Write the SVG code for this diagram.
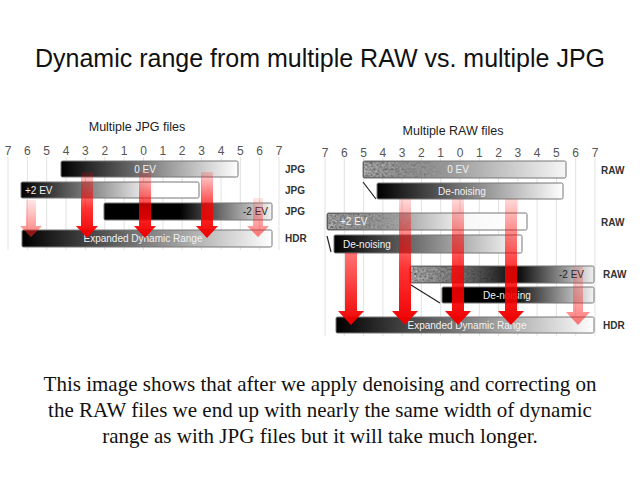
<svg xmlns="http://www.w3.org/2000/svg" width="640" height="480" viewBox="0 0 640 480">
<style>
.title{font-family:"Liberation Sans",Arial,sans-serif;font-size:25px;fill:#111}
.sub{font-family:"Liberation Sans",Arial,sans-serif;font-size:12.5px;fill:#222}
.num{font-family:"Liberation Sans",Arial,sans-serif;font-size:12px;fill:#555;text-anchor:middle}
.lab{font-family:"Liberation Sans",Arial,sans-serif;font-size:10px;font-weight:bold;fill:#333}
.bt{font-family:"Liberation Sans",Arial,sans-serif;font-size:10px;fill:#f2f2f2}
.btd{font-family:"Liberation Sans",Arial,sans-serif;font-size:10px;fill:#222}
.bar{stroke:#777;stroke-width:1}
.grid{stroke:#e2e2e2;stroke-width:1}
.body{font-family:"Liberation Serif","Times New Roman",serif;font-size:21px;fill:#111;text-anchor:middle}
.diag{stroke:#222;stroke-width:1.2}
</style>
<defs>
<linearGradient id="gBW" x1="0" x2="1" y1="0" y2="0"><stop offset="0" stop-color="#000"/><stop offset="1" stop-color="#fff"/></linearGradient>
<linearGradient id="gBW75" x1="0" x2="1"><stop offset="0" stop-color="#000"/><stop offset="0.75" stop-color="#fff"/><stop offset="1" stop-color="#fff"/></linearGradient>
<linearGradient id="gBlackHalf" x1="0" x2="1"><stop offset="0" stop-color="#000"/><stop offset="0.45" stop-color="#000"/><stop offset="1" stop-color="#f4f4f4"/></linearGradient>
<linearGradient id="gRaw0" x1="0" x2="1"><stop offset="0" stop-color="#555"/><stop offset="1" stop-color="#f6f6f6"/></linearGradient>
<linearGradient id="gRawP" x1="0" x2="1"><stop offset="0" stop-color="#444"/><stop offset="0.7" stop-color="#f8f8f8"/><stop offset="1" stop-color="#fff"/></linearGradient>
<linearGradient id="gRawM" x1="0" x2="1"><stop offset="0" stop-color="#666"/><stop offset="0.6" stop-color="#111"/><stop offset="1" stop-color="#f0f0f0"/></linearGradient>
<linearGradient id="gFade" x1="0" x2="1"><stop offset="0" stop-color="#fff" stop-opacity="0.9"/><stop offset="1" stop-color="#fff" stop-opacity="0"/></linearGradient>
<mask id="mFade" maskContentUnits="objectBoundingBox"><rect width="1" height="1" fill="url(#gFade)"/></mask>
<filter id="noise" x="0" y="0" width="1" height="1">
<feTurbulence type="fractalNoise" baseFrequency="0.45" numOctaves="2" seed="3" result="t"/>
<feColorMatrix in="t" type="matrix" values="0.5 0.5 0 0 -0.15  0.5 0.5 0 0 -0.15  0.5 0.5 0 0 -0.15  0 0 0 0 1" result="g"/>
<feComposite in="g" in2="SourceGraphic" operator="in"/>
</filter>
<linearGradient id="gArrow" x1="0" y1="0" x2="0" y2="1"><stop offset="0" stop-color="#ff0000" stop-opacity="0.15"/><stop offset="0.55" stop-color="#ff0000" stop-opacity="0.8"/><stop offset="1" stop-color="#ee0000" stop-opacity="1"/></linearGradient>
<linearGradient id="gArrowStrong" x1="0" y1="0" x2="0" y2="1"><stop offset="0" stop-color="#ff0000" stop-opacity="0.55"/><stop offset="1" stop-color="#ee0000" stop-opacity="1"/></linearGradient>
<linearGradient id="gArrowPale" x1="0" y1="0" x2="0" y2="1"><stop offset="0" stop-color="#ff3030" stop-opacity="0.12"/><stop offset="1" stop-color="#ff2020" stop-opacity="0.6"/></linearGradient>
</defs>
<rect width="640" height="480" fill="#fff"/>

<text class="title" x="320" y="67" text-anchor="middle">Dynamic range from multiple RAW vs. multiple JPG</text>

<!-- LEFT PANEL -->
<g id="left-scale">
<text class="sub" x="137" y="131" text-anchor="middle">Multiple JPG files</text>
<g class="grid">
<line x1="8" y1="157" x2="8" y2="250"/><line x1="27.4" y1="157" x2="27.4" y2="250"/><line x1="46.7" y1="157" x2="46.7" y2="250"/><line x1="66.1" y1="157" x2="66.1" y2="250"/><line x1="85.4" y1="157" x2="85.4" y2="250"/><line x1="104.8" y1="157" x2="104.8" y2="250"/><line x1="124.2" y1="157" x2="124.2" y2="250"/><line x1="143.5" y1="157" x2="143.5" y2="250"/><line x1="162.9" y1="157" x2="162.9" y2="250"/><line x1="182.2" y1="157" x2="182.2" y2="250"/><line x1="201.6" y1="157" x2="201.6" y2="250"/><line x1="221" y1="157" x2="221" y2="250"/><line x1="240.3" y1="157" x2="240.3" y2="250"/><line x1="259.7" y1="157" x2="259.7" y2="250"/><line x1="279" y1="157" x2="279" y2="250"/>
</g>
<text class="num" x="8" y="155">7</text><text class="num" x="27.4" y="155">6</text><text class="num" x="46.7" y="155">5</text><text class="num" x="66.1" y="155">4</text><text class="num" x="85.4" y="155">3</text><text class="num" x="104.8" y="155">2</text><text class="num" x="124.2" y="155">1</text><text class="num" x="143.5" y="155">0</text><text class="num" x="162.9" y="155">1</text><text class="num" x="182.2" y="155">2</text><text class="num" x="201.6" y="155">3</text><text class="num" x="221" y="155">4</text><text class="num" x="240.3" y="155">5</text><text class="num" x="259.7" y="155">6</text><text class="num" x="279" y="155">7</text>
</g>

<g id="jpg-0ev"><rect class="bar" x="61" y="161" width="177" height="16" rx="1.5" fill="url(#gBW)"/><text class="bt" x="145" y="173" text-anchor="middle">0 EV</text><text class="lab" x="285" y="173">JPG</text></g>
<g id="jpg-plus2"><rect class="bar" x="21" y="182" width="178" height="16" rx="1.5" fill="url(#gBW75)"/><text class="bt" x="25" y="194">+2 EV</text><text class="lab" x="285" y="194">JPG</text></g>
<g id="jpg-minus2"><rect class="bar" x="104" y="203" width="168" height="17" rx="1.5" fill="url(#gBlackHalf)"/><text class="btd" x="268" y="215" text-anchor="end">-2 EV</text><text class="lab" x="285" y="215">JPG</text></g>
<g id="jpg-hdr"><rect class="bar" x="22" y="230" width="250" height="17" rx="1.5" fill="url(#gBW)"/><text class="bt" x="143" y="242" text-anchor="middle" font-size="11">Expanded Dynamic Range</text><text class="lab" x="285" y="242">HDR</text></g>

<!-- RIGHT PANEL -->
<g id="right-scale">
<text class="sub" x="453" y="135" text-anchor="middle">Multiple RAW files</text>
<g class="grid">
<line x1="325" y1="158" x2="325" y2="336"/><line x1="344.3" y1="158" x2="344.3" y2="336"/><line x1="363.6" y1="158" x2="363.6" y2="336"/><line x1="382.9" y1="158" x2="382.9" y2="336"/><line x1="402.1" y1="158" x2="402.1" y2="336"/><line x1="421.4" y1="158" x2="421.4" y2="336"/><line x1="440.7" y1="158" x2="440.7" y2="336"/><line x1="460" y1="158" x2="460" y2="336"/><line x1="479.3" y1="158" x2="479.3" y2="336"/><line x1="498.6" y1="158" x2="498.6" y2="336"/><line x1="517.9" y1="158" x2="517.9" y2="336"/><line x1="537.1" y1="158" x2="537.1" y2="336"/><line x1="556.4" y1="158" x2="556.4" y2="336"/><line x1="575.7" y1="158" x2="575.7" y2="336"/><line x1="595" y1="158" x2="595" y2="336"/>
</g>
<text class="num" x="325" y="157">7</text><text class="num" x="344.3" y="157">6</text><text class="num" x="363.6" y="157">5</text><text class="num" x="382.9" y="157">4</text><text class="num" x="402.1" y="157">3</text><text class="num" x="421.4" y="157">2</text><text class="num" x="440.7" y="157">1</text><text class="num" x="460" y="157">0</text><text class="num" x="479.3" y="157">1</text><text class="num" x="498.6" y="157">2</text><text class="num" x="517.9" y="157">3</text><text class="num" x="537.1" y="157">4</text><text class="num" x="556.4" y="157">5</text><text class="num" x="575.7" y="157">6</text><text class="num" x="595" y="157">7</text>
</g>

<g id="raw-0ev"><rect class="bar" x="363" y="161" width="203" height="17" rx="1.5" fill="url(#gRaw0)"/><rect x="364" y="162" width="90" height="15" filter="url(#noise)" mask="url(#mFade)" fill="#000"/><text class="bt" x="458" y="173" text-anchor="middle">0 EV</text><text class="lab" x="601" y="174">RAW</text></g>
<g id="raw-0ev-denoise"><rect class="bar" x="377" y="183" width="186" height="16" rx="1.5" fill="url(#gBW)"/><text class="bt" x="462" y="195" text-anchor="middle" font-size="11">De-noising</text></g>
<g id="raw-plus2"><rect class="bar" x="327" y="213" width="200" height="17" rx="1.5" fill="url(#gRawP)"/><rect x="328" y="214" width="90" height="15" filter="url(#noise)" mask="url(#mFade)" fill="#000"/><text class="bt" x="340" y="225">+2 EV</text><text class="lab" x="601" y="226">RAW</text></g>
<g id="raw-plus2-denoise"><rect class="bar" x="334" y="235" width="188" height="18" rx="1.5" fill="url(#gBW)"/><text class="bt" x="343" y="248" font-size="11">De-noising</text></g>
<g id="raw-minus2"><rect class="bar" x="410" y="266" width="184" height="17" rx="1.5" fill="url(#gRawM)"/><rect x="411" y="267" width="95" height="15" filter="url(#noise)" mask="url(#mFade)" fill="#000"/><text class="btd" x="584" y="278" text-anchor="end">-2 EV</text><text class="lab" x="603" y="278">RAW</text></g>
<g id="raw-minus2-denoise"><rect class="bar" x="442" y="287" width="152" height="16" rx="1.5" fill="url(#gBlackHalf)"/><text class="bt" x="507" y="299" text-anchor="middle" font-size="11">De-noising</text></g>
<g id="raw-hdr"><rect class="bar" x="336" y="317" width="258" height="16" rx="1.5" fill="url(#gBW)"/><text class="bt" x="467" y="329" text-anchor="middle" font-size="11">Expanded Dynamic Range</text><text class="lab" x="603" y="329">HDR</text></g>

<!-- CONNECTORS -->
<g id="connectors">
<line class="diag" x1="363" y1="182" x2="376" y2="199"/>
<line class="diag" x1="327" y1="236" x2="331" y2="252"/>
<line class="diag" x1="411" y1="285" x2="440" y2="303"/>
<!-- left arrows -->
<path d="M26 200 H36 V226 H42 L31 237 L20 226 H26 Z" fill="url(#gArrowPale)"/>
<path d="M81 172 H93 V226 H98 L87 238 L76 226 H81 Z" fill="url(#gArrow)"/>
<path d="M139 172 H151 V226 H156 L145 238 L134 226 H139 Z" fill="url(#gArrow)"/>
<path d="M201 172 H213 V226 H218 L207 238 L196 226 H201 Z" fill="url(#gArrow)"/>
<path d="M253 198 H263 V226 H269 L258 237 L247 226 H253 Z" fill="url(#gArrowPale)"/>
<!-- right arrows -->
<path d="M345 253 H357 V311 H364 L351 325 L338 311 H345 Z" fill="url(#gArrowStrong)"/>
<path d="M399 199 H411 V311 H418 L405 325 L392 311 H399 Z" fill="url(#gArrow)"/>
<path d="M452 199 H464 V311 H471 L458 325 L445 311 H452 Z" fill="url(#gArrow)"/>
<path d="M505 199 H517 V311 H524 L511 325 L498 311 H505 Z" fill="url(#gArrow)"/>
<path d="M573 266 H583 V312 H590 L578 325 L566 312 H573 Z" fill="url(#gArrowPale)"/>
</g>

<text class="body"><tspan x="320" y="391">This image shows that after we apply denoising and correcting on</tspan><tspan x="320" y="417">the RAW files we end up with nearly the same width of dynamic</tspan><tspan x="320" y="443">range as with JPG files but it will take much longer.</tspan></text>
</svg>
